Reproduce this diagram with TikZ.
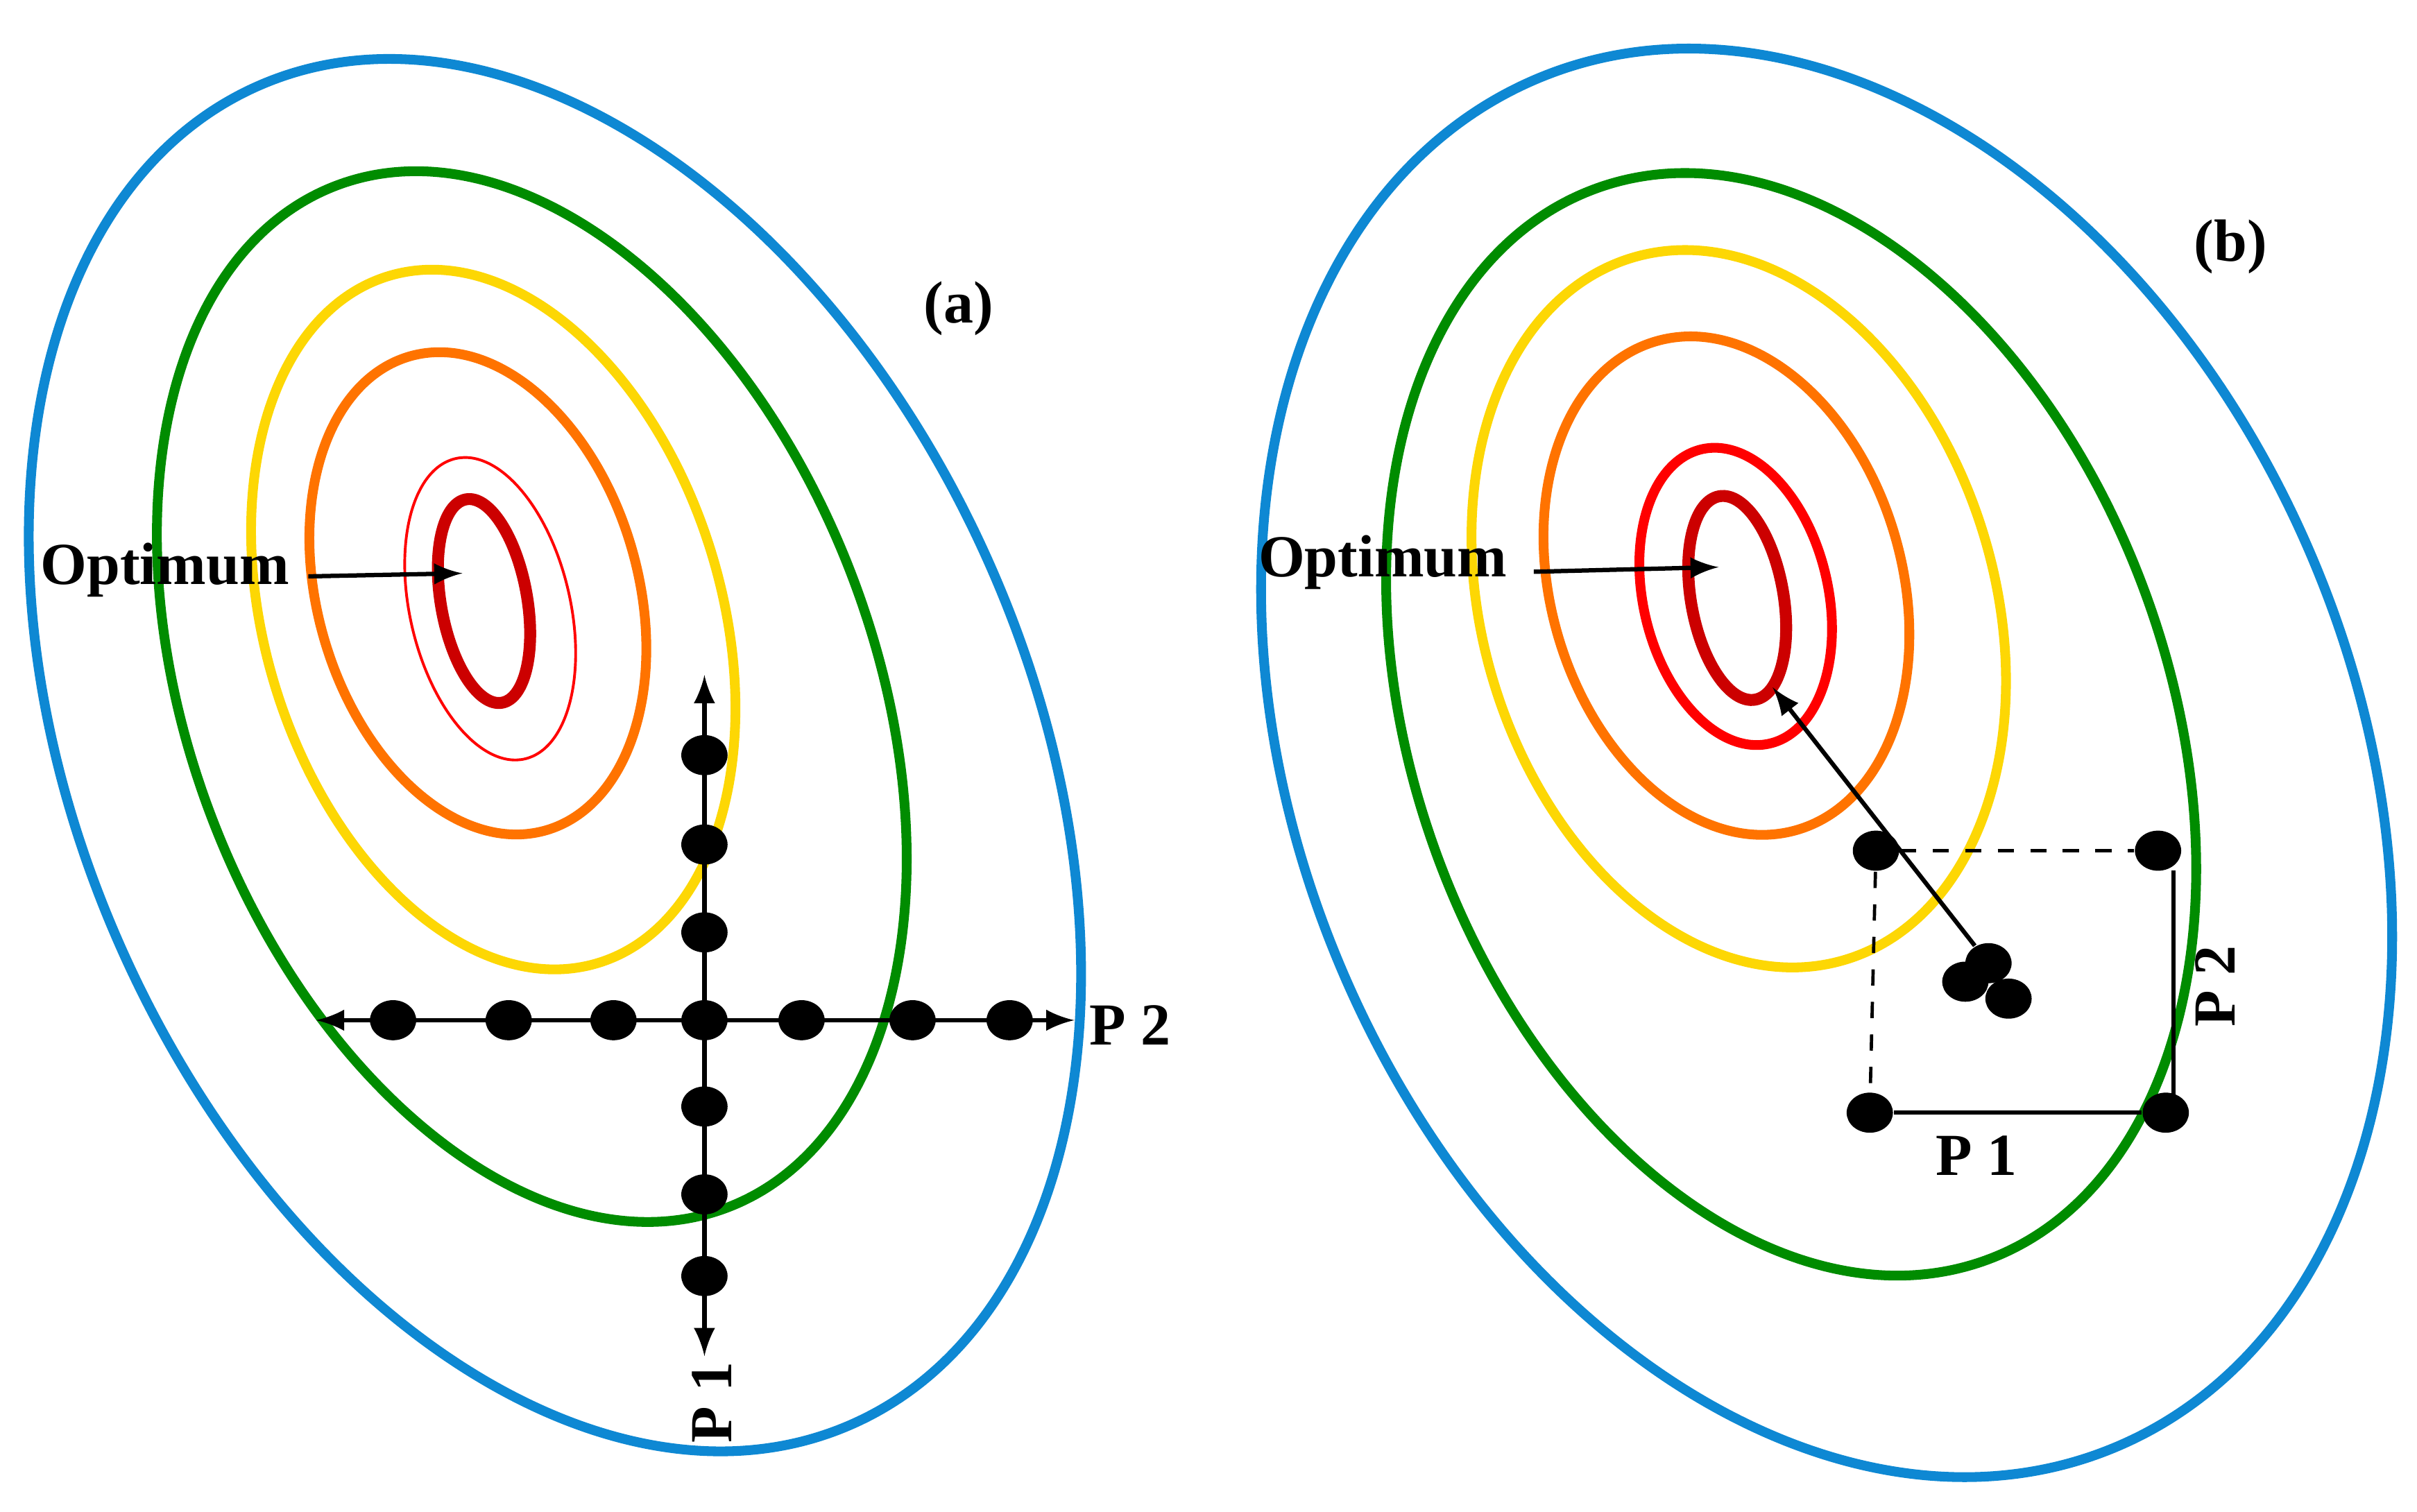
\documentclass[tikz,border=0pt]{standalone}
\usepackage{fontspec}
\setmainfont{Liberation Serif}
\usetikzlibrary{shapes.geometric}
\begin{document}
\begin{tikzpicture}[x=0.01cm,y=-0.01cm,
  cb/.style={draw=cyan!70!blue,line width=1.8pt},
  cg/.style={draw=green!55!black,line width=1.8pt},
  cy/.style={draw=yellow!75!orange,line width=1.8pt},
  co/.style={draw=orange!90!red,line width=1.8pt},
  cr/.style={draw=red,line width=1.8pt},
  crt/.style={draw=red,line width=0.5pt},
  cd/.style={draw=red!80!black,line width=2.2pt},
  dot/.style={ellipse,fill=black,minimum width=0.3cm,minimum height=0.26cm,inner sep=0pt},
  lab/.style={font=\fontsize{11}{13}\selectfont\bfseries},
  arr/.style={-latex,line width=0.8pt}]
\useasboundingbox (0,0) rectangle (1568,981);
% panel a
\draw[cb,rotate around={24:(360,490)}] (360,490) ellipse [x radius=308,y radius=475];
\draw[cg,rotate around={21:(345,452)}] (345,452) ellipse [x radius=222,y radius=355];
\draw[cy,rotate around={17:(320,402)}] (320,402) ellipse [x radius=148,y radius=233];
\draw[co,rotate around={16:(310,385)}] (310,385) ellipse [x radius=104,y radius=160];
\draw[crt,rotate around={13:(318,395)}] (318,395) ellipse [x radius=52,y radius=100];
\draw[cd,rotate around={10:(314,390)}] (314,390) ellipse [x radius=28,y radius=67];
\coordinate (hl) at (205,662); \coordinate (hr) at (697,662);
\coordinate (vt) at (457,438); \coordinate (vb) at (457,880);
\draw[latex-latex,line width=0.8pt] (hl) -- (hr);
\draw[latex-latex,line width=0.8pt] (vt) -- (vb);
\foreach \x [count=\i] in {255,330,398,457,520,592,655} \node[dot] (h\i) at (\x,662) {};
\foreach \y [count=\i] in {490,548,605,718,775,828} \node[dot] (v\i) at (457,\y) {};
\node[lab] (p2a) at (733,665) {P 2};
\node[lab,rotate=90] (p1a) at (462,910) {P 1};
\node[lab] (opta) at (107,370) {Optimum};
\coordinate (ta) at (300,372);
\draw[arr] (opta.east) ++(0,4) -- (ta);
\node[lab] (a) at (622,200) {(a)};
% panel b
\draw[cb,rotate around={23:(1185,495)}] (1185,495) ellipse [x radius=342,y radius=482];
\draw[cg,rotate around={20:(1162,470)}] (1162,470) ellipse [x radius=245,y radius=370];
\draw[cy,rotate around={17:(1128,395)}] (1128,395) ellipse [x radius=166,y radius=238];
\draw[co,rotate around={16:(1120,380)}] (1120,380) ellipse [x radius=114,y radius=165];
\draw[cr,rotate around={13:(1126,387)}] (1126,387) ellipse [x radius=60,y radius=98];
\draw[cd,rotate around={10:(1127,388)}] (1127,388) ellipse [x radius=30,y radius=67];
\node[dot] (b1) at (1217,552) {};
\node[dot] (b2) at (1400,552) {};
\node[dot] (b3) at (1213,722) {};
\node[dot] (b4) at (1405,722) {};
\draw[dashed,line width=0.6pt] (b1) -- (b2);
\draw[dashed,line width=0.6pt] (b1) -- (b3);
\draw[line width=0.8pt] (b3) -- (b4);
\draw[line width=0.8pt] (1410,722) -- (1410,565);
\node[dot] (c1) at (1275,637) {};
\node[dot] (c2) at (1290,625) {};
\node[dot] (c3) at (1303,648) {};
\coordinate (tb) at (1150,446);
\draw[arr] (c2) -- (tb);
\node[lab] (p1b) at (1282,750) {P 1};
\node[lab,rotate=90] (p2b) at (1437,640) {P 2};
\node[lab] (optb) at (897,365) {Optimum};
\coordinate (to) at (1115,368);
\draw[arr] (optb.east) ++(5,6) -- (to);
\node[lab] (b) at (1447,160) {(b)};
\end{tikzpicture}
\end{document}
